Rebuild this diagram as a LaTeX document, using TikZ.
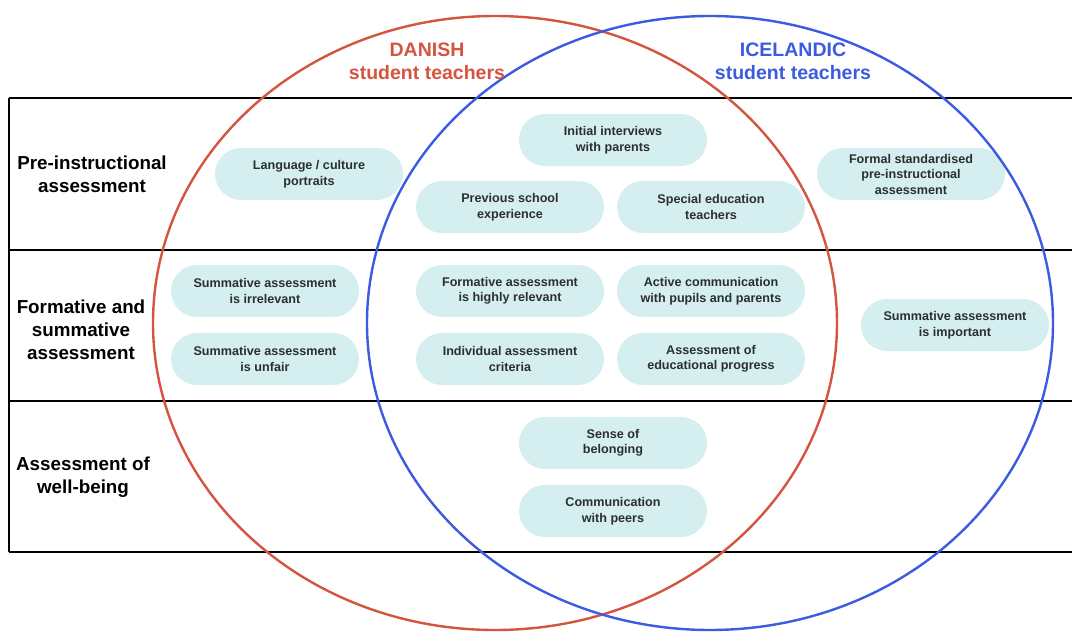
\documentclass[tikz,border=0pt]{standalone}
\usepackage{fontspec}
\setmainfont{Liberation Sans}
\usetikzlibrary{positioning}
\definecolor{danred}{HTML}{D5543F}
\definecolor{iceblue}{HTML}{3B5BE0}
\definecolor{pillfill}{HTML}{D5EEF0}
\definecolor{pilltext}{HTML}{2A2F30}
\begin{document}
\begin{tikzpicture}[x=1pt,y=-1pt,
    pill/.style={fill=pillfill,rounded corners=26pt,minimum width=188pt,minimum height=52pt,
        inner sep=0pt,align=center,text=pilltext,font=\bfseries\fontsize{12.6}{15.5}\selectfont},
    rowlabel/.style={align=center,font=\bfseries\fontsize{18.8}{23}\selectfont},
    header/.style={align=center,font=\bfseries\fontsize{19.5}{23}\selectfont}]
        \useasboundingbox (0,0) rectangle (1072,632);
        % row labels
        \node[rowlabel] (pre) at (92,174) {Pre-instructional\\assessment};
        \node[rowlabel] (form) at (81,330) {Formative and\\summative\\assessment};
        \node[rowlabel] (well) at (83,477) {Assessment of\\well-being};
        % pre-instructional
        \node[pill] (lang) at (309,174) {Language / culture\\portraits};
        \node[pill] (interv) at (613,140) {Initial interviews\\with parents};
        \node[pill] (prev) at (510,207) {Previous school\\experience};
        \node[pill] (spec) at (711,207) {Special education\\teachers};
        \node[pill] (stand) at (911,174) {Formal standardised\\pre-instructional\\assessment};
        % formative and summative
        \node[pill] (irrel) at (265,291) {Summative assessment\\is irrelevant};
        \node[pill] (unfair) at (265,359) {Summative assessment\\is unfair};
        \node[pill] (formrel) at (510,291) {Formative assessment\\is highly relevant};
        \node[pill] (active) at (711,291) {Active communication\\with pupils and parents};
        \node[pill] (indiv) at (510,359) {Individual assessment\\criteria};
        \node[pill] (progr) at (711,359) {Assessment of\\educational progress};
        \node[pill] (import) at (955,325) {Summative assessment\\is important};
        % well-being
        \node[pill] (belong) at (613,443) {Sense of\\belonging};
        \node[pill] (peers) at (613,511) {Communication\\with peers};
        % table
        \foreach \y in {98,250,401,552}
        \draw[line width=1.8pt] (9,\y) -- (1072,\y);
        \draw[line width=1.8pt] (9,98) -- (9,552);
        % circles
        \draw[danred,line width=2.4pt] (495,323) ellipse [x radius=342,y radius=307];
        \draw[iceblue,line width=2.4pt] (710,323) ellipse [x radius=343,y radius=307];
        \node[header,text=danred] (dan) at (427,61) {DANISH\\student teachers};
        \node[header,text=iceblue] (ice) at (793,61) {ICELANDIC\\student teachers};
    \end{tikzpicture}
\end{document}
